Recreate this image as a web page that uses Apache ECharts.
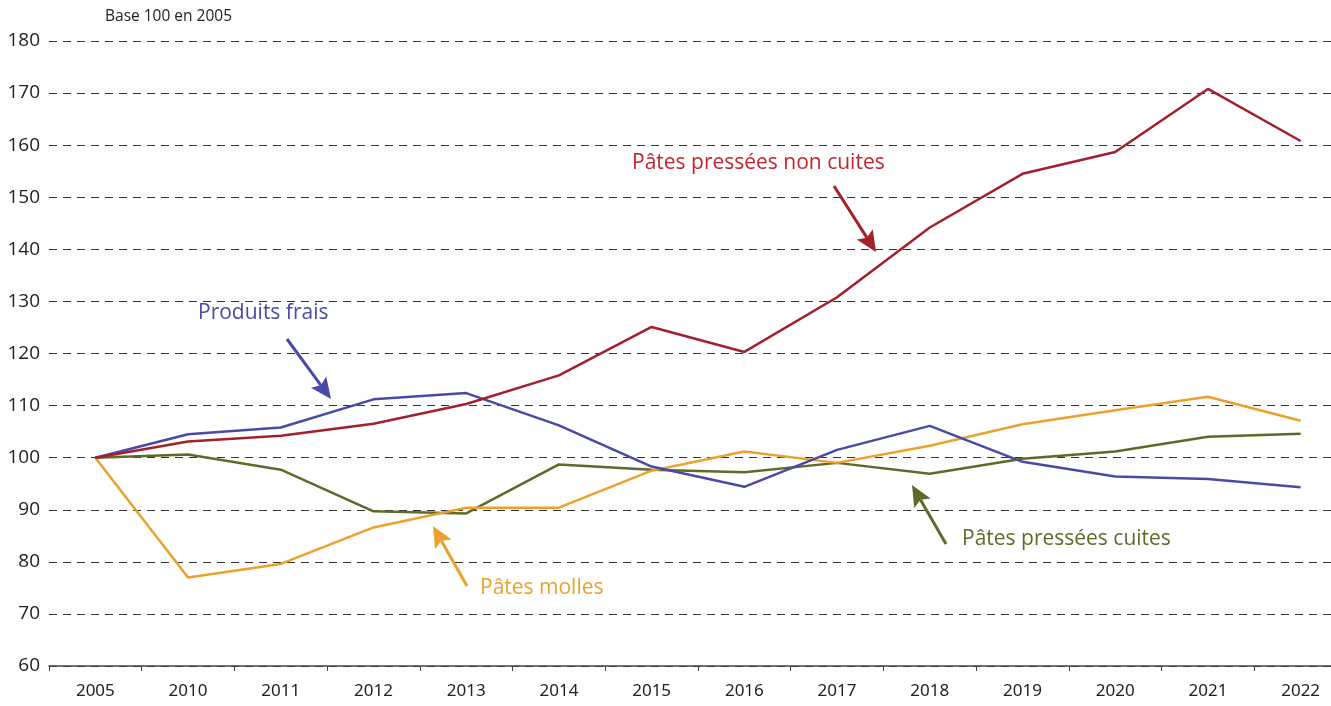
<!DOCTYPE html>
<html>
<head>
<meta charset="utf-8">
<title>Base 100 en 2005</title>
<script src="https://cdn.jsdelivr.net/npm/echarts@6/dist/echarts.min.js"></script>
<style>
    html, body { margin: 0; padding: 0; background: #fff; overflow: hidden; }
    /* slightly wider than the window: the last band is cut at the right edge like in the source */
    #chart { width: 1347px; height: 706px; }
</style>
</head>
<body>
<div id="chart"></div>
<script>
// Data (indices, base 100 in 2005)
const years = ['2005', '2010', '2011', '2012', '2013', '2014', '2015', '2016', '2017', '2018', '2019', '2020', '2021', '2022'];
const pressNonCuites = [100, 103.1, 104.2, 106.5, 110.3, 115.8, 125.1, 120.3, 130.8, 144.2, 154.5, 158.7, 170.8, 160.8];
const produitsFrais = [100, 104.5, 105.8, 111.2, 112.4, 106.2, 98.3, 94.4, 101.5, 106.1, 99.2, 96.4, 95.9, 94.3];
const patesMolles = [100, 77.0, 79.6, 86.6, 90.4, 90.4, 97.5, 101.2, 99.0, 102.3, 106.4, 109.1, 111.7, 107.1];
const pressCuites = [100, 100.6, 97.7, 89.7, 89.3, 98.7, 97.7, 97.2, 99.0, 96.9, 99.8, 101.2, 104.0, 104.6];

const RED = '#a3202a';
const BLUE = '#4a4aa6';
const ORANGE = '#eba12c';
const GREEN = '#5f6a28';

const FONT = '"Open Sans", "Noto Sans", sans-serif';

// Arrow annotation: line from tail to tip, with a filled triangle at the tip
function arrow(x1, y1, x2, y2, color) {
    const ang = Math.atan2(y2 - y1, x2 - x1);
    const len = 21, half = 9.5;
    const bx = x2 - len * Math.cos(ang), by = y2 - len * Math.sin(ang);
    const px = -Math.sin(ang) * half, py = Math.cos(ang) * half;
    const nx = x2 - (len - 4) * Math.cos(ang), ny = y2 - (len - 4) * Math.sin(ang);
    return [
        { type: 'line', z: 100, shape: { x1: x1, y1: y1, x2: nx, y2: ny }, style: { stroke: color, lineWidth: 3 } },
        { type: 'polygon', z: 100, shape: { points: [[x2, y2], [bx + px, by + py], [nx, ny], [bx - px, by - py]] }, style: { fill: color } }
    ];
}

function label(text, x, y, color) {
    return { type: 'text', z: 100, left: x, top: y, style: { text: text, fill: color, font: '21px ' + FONT } };
}

const chart = echarts.init(document.getElementById('chart'));

function makeLine(name, data, color) {
    return {
        name: name,
        type: 'line',
        data: data,
        symbol: 'none',
        lineStyle: { color: color, width: 2.5 },
        itemStyle: { color: color }
    };
}

const option = {
    animation: false,
    grid: { left: 49, right: 0, top: 41, bottom: 40 },
    xAxis: {
        type: 'category',
        data: years,
        boundaryGap: true,
        axisLine: { lineStyle: { color: '#444', width: 1.5 } },
        axisTick: { show: true, length: 5, lineStyle: { color: '#444' } },
        axisLabel: { color: '#222', fontSize: 17, fontFamily: '"Noto Sans", sans-serif', margin: 17 },
        splitLine: { show: false }
    },
    yAxis: {
        type: 'value',
        min: 60,
        max: 180,
        interval: 10,
        axisLine: { show: false },
        axisTick: { show: false },
        axisLabel: { color: '#222', fontSize: 19, fontFamily: FONT, margin: 9 },
        splitLine: { lineStyle: { color: '#333', type: [8, 6], width: 1.2 } }
    },
    series: [
        makeLine('Pâtes pressées cuites', pressCuites, GREEN),
        makeLine('Pâtes molles', patesMolles, ORANGE),
        makeLine('Produits frais', produitsFrais, BLUE),
        makeLine('Pâtes pressées non cuites', pressNonCuites, RED)
    ],
    graphic: [
        { type: 'text', left: 105, top: 9, style: { text: 'Base 100 en 2005', fill: '#222', font: '15.5px ' + FONT } },
        label('Pâtes pressées non cuites', 632, 153, '#c4242c'),
        label('Produits frais', 198, 303, BLUE),
        label('Pâtes molles', 480, 578, ORANGE),
        label('Pâtes pressées cuites', 962, 529, GREEN)
    ]
        .concat(arrow(834, 186, 876, 252, RED))
        .concat(arrow(287, 339, 331, 399, BLUE))
        .concat(arrow(467, 586, 433, 526, ORANGE))
        .concat(arrow(946, 544, 912, 485, GREEN))
};

chart.setOption(option);

window.addEventListener('resize', function() {
    chart.resize();
});
</script>
</body>
</html>
